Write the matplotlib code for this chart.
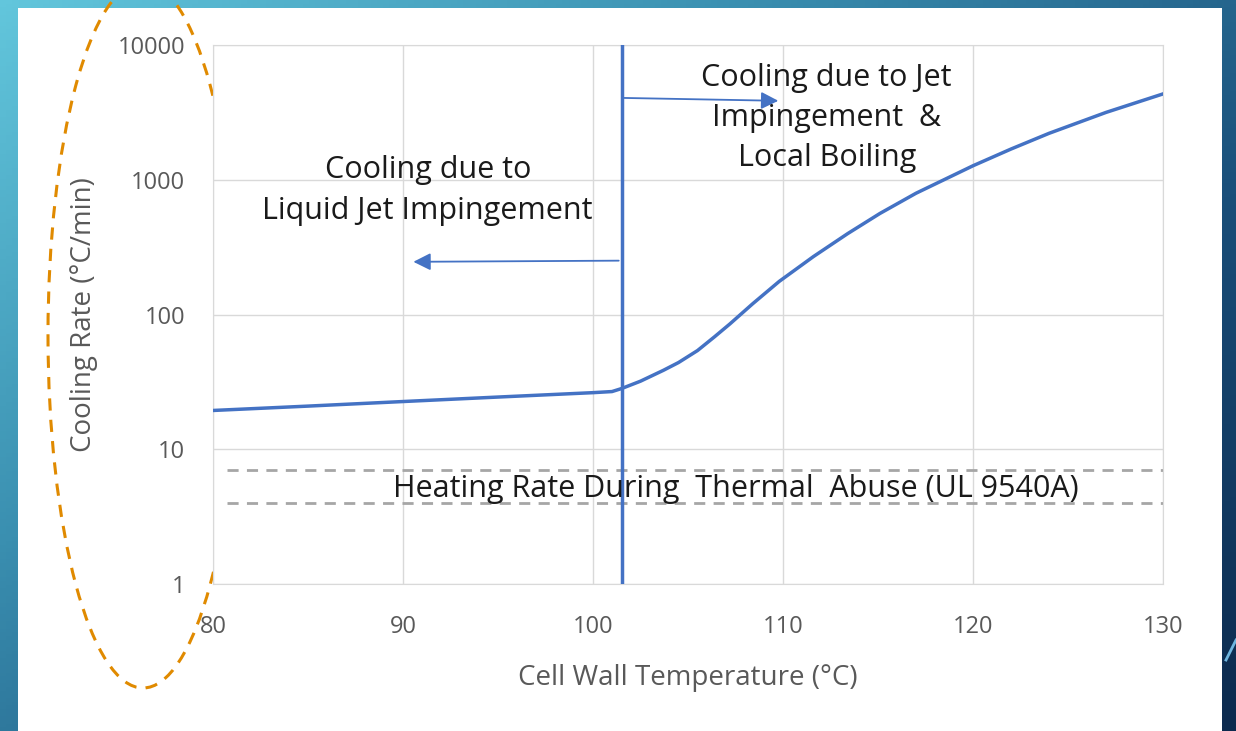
import numpy as np
import matplotlib
matplotlib.use("Agg")
import matplotlib.pyplot as plt
from matplotlib.patches import Rectangle, Ellipse
from matplotlib.colors import LinearSegmentedColormap

# data
temp = [80, 85, 90, 95, 100, 101, 101.5, 102.5, 103.7, 104.5, 105.5, 106.4, 107.2, 108.4,
        109.8, 111.6, 113.4, 115.1, 117, 120, 122, 124, 127, 130]
rate = [19.4, 20.9, 22.6, 24.4, 26.3, 26.8, 28.2, 32, 38.5, 44, 54, 68.4, 85, 120,
        176, 269, 398, 562, 794, 1270, 1690, 2210, 3160, 4335]
heat_low = 4.0
heat_high = 7.0
t_split = 101.5
xticks = [80, 90, 100, 110, 120, 130]
yticks = [1, 10, 100, 1000, 10000]

W, H = 1236, 731
fig = plt.figure(figsize=(W / 100, H / 100), dpi=100)
plt.rcParams['font.family'] = ['Open Sans', 'DejaVu Sans']

# slide background
bg = fig.add_axes([0, 0, 1, 1])
bg.set_xlim(0, W)
bg.set_ylim(H, 0)
bg.axis('off')
cmap = LinearSegmentedColormap.from_list('slide', ['#62c6dc', '#3a8fb0', '#1a4f7a', '#0c2a4e'])
gx, gy = np.meshgrid(np.linspace(0, 1, 200), np.linspace(0, 1, 200))
bg.imshow(0.55 * gx + 0.45 * gy, cmap=cmap, extent=[0, W, H, 0], aspect='auto', zorder=0)
bg.add_patch(Rectangle((18, 8), 1204, 723, facecolor='white', edgecolor='none', zorder=1))
bg.plot([1226, 1236], [660, 640], color='#6fb6e0', lw=2, zorder=1)

ax = fig.add_axes([213 / W, (H - 584) / H, 950 / W, 539 / H])
ax.set_yscale('log')
ax.set_xlim(80, 130)
ax.set_ylim(1, 10000)
ax.set_xticks(xticks)
ax.set_yticks(yticks)
ax.set_yticklabels([str(v) for v in yticks])
ax.minorticks_off()
ax.tick_params(length=0, labelsize=17, colors='#595959')
ax.tick_params(axis='y', pad=20)
ax.tick_params(axis='x', pad=22)
ax.grid(True, color='#d9d9d9', lw=1)
for s in ax.spines.values():
    s.set_color('#d9d9d9')

blue = '#4472c4'
ax.plot(temp, rate, color=blue, lw=2.5, zorder=3)
ax.axvline(t_split, color=blue, lw=2.5, zorder=3)
ax.axhline(heat_high, xmin=0.015, color='#a6a6a6', lw=2, ls=(0, (4, 3)), zorder=2)
ax.axhline(heat_low, xmin=0.015, color='#a6a6a6', lw=2, ls=(0, (4, 3)), zorder=2)

ax.annotate('', xy=(90.4, 246), xytext=(t_split, 251),
            arrowprops=dict(arrowstyle='-|>', color=blue, lw=1.3, mutation_scale=26))
ax.annotate('', xy=(109.9, 3850), xytext=(t_split, 4050),
            arrowprops=dict(arrowstyle='-|>', color=blue, lw=1.3, mutation_scale=26))

ax.text(91.3, 830, 'Cooling due to\nLiquid Jet Impingement', ha='center', va='center',
        fontsize=22, color='#1a1a1a', linespacing=1.45)
ax.text(112.3, 2870, 'Cooling due to Jet\nImpingement  &\nLocal Boiling', ha='center', va='center',
        fontsize=22, color='#1a1a1a', linespacing=1.45)
ax.text(107.5, 5.1, 'Heating Rate During  Thermal  Abuse (UL 9540A)', ha='center', va='center',
        fontsize=22, color='#1a1a1a')

ax.set_xlabel('Cell Wall Temperature (°C)', fontsize=20, color='#595959', labelpad=18)
ax.set_ylabel('Cooling Rate (°C/min)', fontsize=20, color='#595959', labelpad=14)

# highlight around the y axis
bg.add_patch(Ellipse((143, 335), 190, 706, facecolor='none', edgecolor='#e08a00',
                     lw=2.2, ls=(0, (4, 3)), zorder=5))

fig.savefig('out.png', dpi=100)
